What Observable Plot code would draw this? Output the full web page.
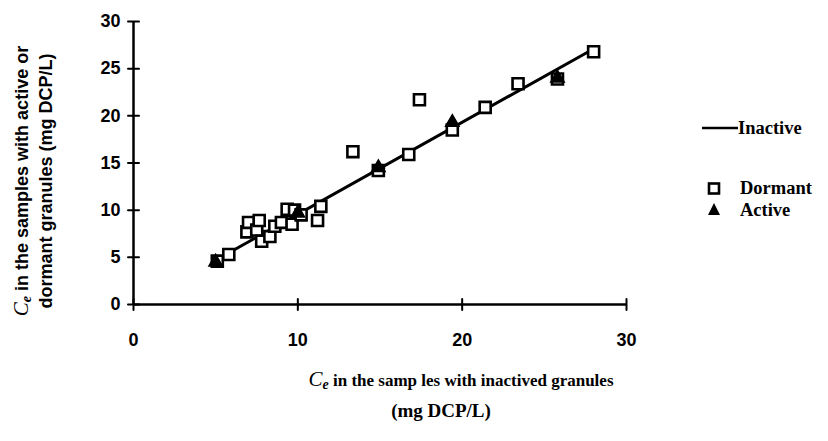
<!DOCTYPE html>
<html>
<head>
<meta charset="utf-8">
<script src="https://cdn.jsdelivr.net/npm/d3@7"></script>
<script src="https://cdn.jsdelivr.net/npm/@observablehq/plot@0.6"></script>
<style>
  html, body { margin: 0; padding: 0; background: #fff; }
  #wrap { position: relative; width: 828px; height: 441px; overflow: hidden; }
  #wrap > svg { display: block; }
  .lab { position: absolute; color: #000; white-space: nowrap; }
  .serif { font-family: "Liberation Serif", "Times New Roman", serif; font-weight: bold; font-size: 17px; }
  .sans { font-family: "Liberation Sans", Arial, sans-serif; font-weight: bold; font-size: 18px; }
  .ce { font-family: "Liberation Serif", serif; font-style: italic; font-weight: normal; font-size: 21px; line-height: 0; }
  .ce sub { font-size: 14px; font-weight: bold; vertical-align: -3px; line-height: 0; }
  .ylab { left: 34px; top: 181px; transform: translate(-50%, -50%) rotate(-90deg); text-align: center; line-height: 24px; }
  .xlab { transform: translate(-50%, -50%); text-align: center; }
  .leg { left: 700px; height: 24px; line-height: 24px; font-family: "Liberation Serif", "Times New Roman", serif; font-weight: bold; font-size: 18.5px; }
  .leg svg { display: inline-block; vertical-align: middle; }
  .leg span { vertical-align: middle; }
</style>
</head>
<body>
<div id="wrap"></div>
<script>
// Ce measured with inactivated granules (x) vs. dormant / active granules (y), mg DCP/L
const inactiveLineX = [4.9, 28.2];
const inactiveLineY = [4.6, 27.3];

const dormantX = [5.1, 5.8, 6.9, 7.0, 7.5, 7.65, 7.8, 8.3, 8.6, 9.0, 9.35, 9.65, 9.8, 10.2, 11.2, 11.4, 13.35, 14.9, 16.75, 17.4, 19.4, 21.4, 23.4, 25.8, 28.0];
const dormantY = [4.6, 5.3, 7.7, 8.7, 7.9, 8.9, 6.7, 7.2, 8.3, 8.7, 10.1, 8.5, 10.0, 9.5, 8.9, 10.4, 16.2, 14.2, 15.9, 21.7, 18.5, 20.9, 23.4, 23.9, 26.8];

const activeX = [5.0, 10.0, 14.9, 19.4, 25.8];
const activeY = [4.5, 9.7, 14.5, 19.3, 24.0];

const xTicks = [0, 10, 20, 30];
const yTicks = [0, 5, 10, 15, 20, 25, 30];

const inactive = inactiveLineX.map((x, i) => ({x, y: inactiveLineY[i]}));
const dormant = dormantX.map((x, i) => ({x, y: dormantY[i]}));
const active = activeX.map((x, i) => ({x, y: activeY[i]}));

// short straight stroke used for the axis tick marks that cross the axis line
const tickShape = {
  draw(context, l) {
    context.moveTo(0, 0);
    context.lineTo(0, -l);
  }
};

const chart = Plot.plot({
  width: 828,
  height: 441,
  marginLeft: 133,
  marginRight: 202,
  marginTop: 21,
  marginBottom: 137,
  x: {domain: [0, 30]},
  y: {domain: [0, 30]},
  style: {fontFamily: "'Liberation Sans', Arial, sans-serif", fontWeight: "bold", fontSize: "18px", color: "#000", background: "#fff"},
  marks: [
    Plot.ruleX([0], {y1: 0, y2: 30, stroke: "#000", strokeWidth: 2.5}),
    Plot.ruleY([0], {x1: 0, x2: 30, stroke: "#000", strokeWidth: 2.5}),
    Plot.vector(yTicks, {x: 0, y: d => d, rotate: 90, length: 11, anchor: "middle", shape: tickShape, stroke: "#000", strokeWidth: 2}),
    Plot.vector(xTicks, {x: d => d, y: 0, rotate: 0, length: 11, anchor: "middle", shape: tickShape, stroke: "#000", strokeWidth: 2}),
    Plot.axisX({ticks: xTicks, tickSize: 0, tickPadding: 29, label: null, fontSize: 18, fontWeight: "bold"}),
    Plot.axisY({ticks: yTicks, tickSize: 0, tickPadding: 13, label: null, fontSize: 18, fontWeight: "bold"}),
    Plot.line(inactive, {x: "x", y: "y", stroke: "#000", strokeWidth: 3}),
    Plot.dot(dormant, {x: "x", y: "y", symbol: "square", r: 6.2, fill: "#fff", stroke: "#000", strokeWidth: 2.6}),
    Plot.dot(active, {x: "x", y: "y", symbol: "triangle", r: 5, fill: "#000", stroke: "#000", strokeWidth: 1.5})
  ]
});

const wrap = document.getElementById("wrap");
wrap.appendChild(chart);

wrap.insertAdjacentHTML("beforeend", `
  <div class="lab sans ylab"><span class="ce">C<sub>e</sub></span> in the samples with active or<br>dormant granules (mg DCP/L)</div>
  <div class="lab serif xlab" style="left:461px; top:381px;"><span class="ce">C<sub>e</sub></span> in the samp les with inactived granules</div>
  <div class="lab serif xlab" style="left:441px; top:411px; font-size:19px;">(mg DCP/L)</div>
  <div class="lab leg" style="top:114px;">
    <svg width="38" height="24"><line x1="2" y1="12" x2="38" y2="12" stroke="#000" stroke-width="2.5"/></svg><span>Inactive</span>
  </div>
  <div class="lab leg" style="top:174px;">
    <svg width="40" height="24"><rect x="9" y="7.5" width="10" height="10" fill="#fff" stroke="#000" stroke-width="2.6"/></svg><span>Dormant</span>
  </div>
  <div class="lab leg" style="top:196px;">
    <svg width="40" height="24"><path d="M14 5 L20 17 L8 17 Z" fill="#000"/></svg><span>Active</span>
  </div>
`);
</script>
</body>
</html>
